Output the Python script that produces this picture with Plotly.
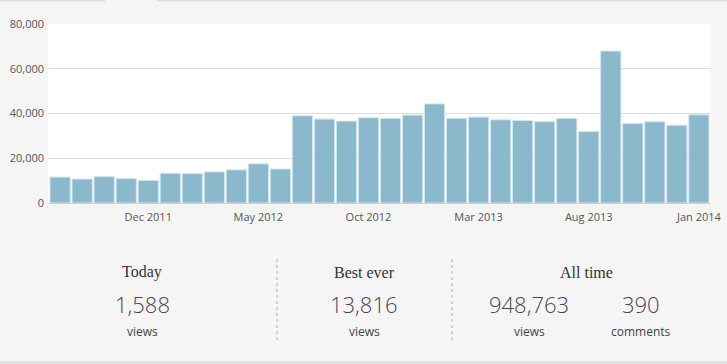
import plotly.graph_objects as go

months = ["Aug 2011", "Sep 2011", "Oct 2011", "Nov 2011", "Dec 2011", "Jan 2012",
          "Feb 2012", "Mar 2012", "Apr 2012", "May 2012", "Jun 2012", "Jul 2012",
          "Aug 2012", "Sep 2012", "Oct 2012", "Nov 2012", "Dec 2012", "Jan 2013",
          "Feb 2013", "Mar 2013", "Apr 2013", "May 2013", "Jun 2013", "Jul 2013",
          "Aug 2013", "Sep 2013", "Oct 2013", "Nov 2013", "Dec 2013", "Jan 2014"]
views = [11600, 10700, 11800, 10900, 10100, 13300, 13100, 13900, 14800, 17500,
         15200, 39000, 37500, 36600, 38100, 37800, 39300, 44300, 37800, 38400,
         37200, 36900, 36400, 37800, 31900, 67900, 35500, 36300, 34800, 39400]
tick_labels = ["Dec 2011", "May 2012", "Oct 2012", "Mar 2013", "Aug 2013", "Jan 2014"]
y_ticks = [0, 20000, 40000, 60000, 80000]

stat_titles = ["Today", "Best ever", "All time"]
stat_values = ["1,588", "13,816", "948,763", "390"]
stat_units = ["views", "views", "views", "comments"]

W, H = 727, 364
L, R, T, B = 48, 711, 24, 203


def px(x):
    return (x - L) / (R - L)


def py(y):
    return (B - y) / (B - T)


fig = go.Figure(go.Bar(
    x=months, y=views,
    marker=dict(color="#8cb8cc", line=dict(color="#d3e5ee", width=1)),
    hoverinfo="x+y",
))

title_x = [142, 364, 586]
value_x = [142, 364, 529, 641]

annotations = []
for t, x in zip(stat_titles, title_x):
    annotations.append(dict(x=px(x), y=py(272), xref="paper", yref="paper", text=t,
                            showarrow=False, xanchor="center", yanchor="middle",
                            font=dict(family="Liberation Serif, DejaVu Serif, serif", size=16, color="#333")))
for v, u, x in zip(stat_values, stat_units, value_x):
    annotations.append(dict(x=px(x), y=py(304), xref="paper", yref="paper", text=v,
                            showarrow=False, xanchor="center", yanchor="middle",
                            font=dict(family="Open Sans, sans-serif", size=22, color="#4a4550", weight=300)))
    annotations.append(dict(x=px(x), y=py(331), xref="paper", yref="paper", text=u,
                            showarrow=False, xanchor="center", yanchor="middle",
                            font=dict(family="Open Sans, sans-serif", size=12, color="#444")))

shapes = []
for x in [277, 452]:
    shapes.append(dict(type="line", xref="paper", yref="paper", x0=px(x), x1=px(x),
                       y0=py(259), y1=py(343), line=dict(color="#b0b0b0", width=1, dash="dot")))
# top border with tab gap
shapes.append(dict(type="line", xref="paper", yref="paper", x0=px(0), x1=px(105),
                   y0=py(0.5), y1=py(0.5), line=dict(color="#dcdcdc", width=2)))
shapes.append(dict(type="line", xref="paper", yref="paper", x0=px(157), x1=px(727),
                   y0=py(0.5), y1=py(0.5), line=dict(color="#dcdcdc", width=2)))
# bottom border
shapes.append(dict(type="line", xref="paper", yref="paper", x0=px(0), x1=px(727),
                   y0=py(362.5), y1=py(362.5), line=dict(color="#dcdcdc", width=2)))

fig.update_layout(
    width=W, height=H,
    margin=dict(l=L, r=W - R, t=T, b=H - B, pad=0, autoexpand=False),
    paper_bgcolor="#f5f5f5", plot_bgcolor="#ffffff",
    bargap=0.08, showlegend=False,
    font=dict(family="Open Sans, sans-serif", size=11, color="#555"),
    xaxis=dict(type="category", tickmode="array", tickvals=tick_labels, ticktext=tick_labels,
               range=[-0.55, 29.55], showgrid=False, showline=True, linecolor="#d0d0d0",
               linewidth=1, ticks="", automargin=False, ticklabelstandoff=4,
               tickfont=dict(size=11, color="#555"), fixedrange=True),
    yaxis=dict(range=[0, 80000], tickvals=y_ticks, tickformat=",", showgrid=True,
               gridcolor="#dddddd", gridwidth=1, zeroline=False, ticks="", automargin=False,
               ticklabelstandoff=3, tickfont=dict(size=11, color="#555"), fixedrange=True),
    annotations=annotations, shapes=shapes,
)

fig.write_html("out.html", config={"displayModeBar": False},
               post_script="document.body.style.margin='0';")
